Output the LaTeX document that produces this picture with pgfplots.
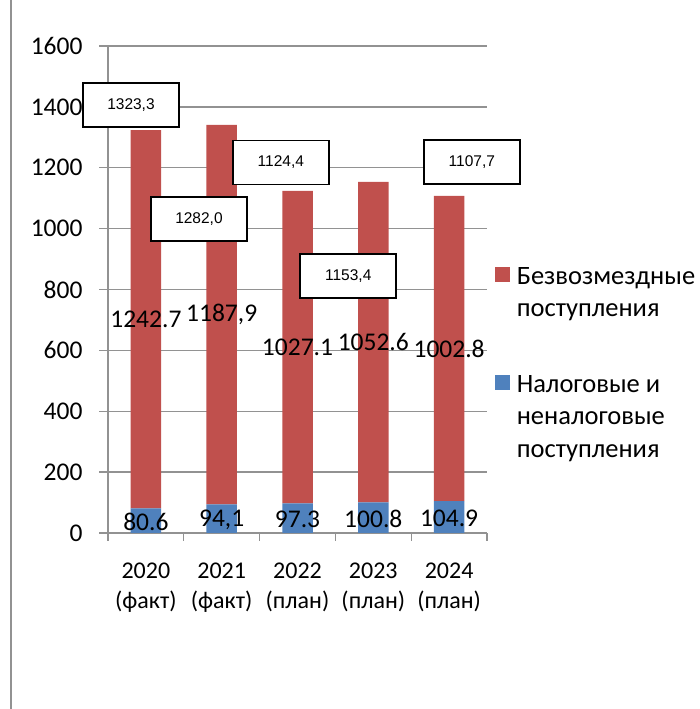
\documentclass[border=0pt]{standalone}
\usepackage{pgfplots}
\pgfplotsset{compat=1.18}
\usepackage{fontspec}
\setmainfont{Carlito}
\newfontfamily\arial{Liberation Sans}
\definecolor{redbar}{RGB}{192,80,77}
\definecolor{bluebar}{RGB}{79,129,189}
\definecolor{gridc}{RGB}{146,146,146}
\begin{document}
\begin{tikzpicture}
\useasboundingbox (0,0) rectangle (699pt,709pt);
\draw[gridc, line width=1.2pt] (11pt,0pt) -- (11pt,709pt);
\begin{axis}[
  at={(108pt,176pt)}, anchor=south west,
  scale only axis, width=379pt, height=487pt,
  xmin=-0.5, xmax=4.5, ymin=0, ymax=1600,
  ybar stacked, bar width=30.5pt,
  axis x line*=bottom, axis y line*=left,
  axis line style={gridc, line width=1.3pt, -},
  ytick={0,200,...,1600},
  ymajorgrids, grid style={gridc, line width=1.3pt},
  xtick={0,...,4},
  xticklabels={{2020\\(факт)},{2021\\(факт)},{2022\\(план)},{2023\\(план)},{2024\\(план)}},
  minor xtick={-0.5,0.5,...,4.5},
  tick align=outside,
  major tick length=9pt, minor tick length=8pt,
  major x tick style={draw=none},
  minor x tick style={gridc, line width=1.3pt},
  ytick style={gridc, line width=1.3pt},
  xticklabel style={align=center, font=\fontsize{24}{30}\selectfont, yshift=-17pt},
  yticklabel style={font=\fontsize{25.5}{30}\selectfont, xshift=-13pt},
  /pgf/number format/assume math mode=true,
  /pgf/number format/1000 sep={},
  legend style={draw=none, fill=none, at={(1.02,0.547)}, anchor=north west,
     font=\fontsize{26.5}{32.5}\selectfont, cells={anchor=north west, align=left},
     row sep=57pt, column sep=7pt, inner sep=0pt, nodes={inner sep=0pt}},
  legend image code/.code={\fill[#1] (0pt,-15pt) rectangle (15pt,0pt);},
  reverse legend,
]
\addplot[fill=bluebar, draw=none] coordinates {(0,80.6) (1,94.1) (2,97.3) (3,100.8) (4,104.9)};
\addlegendentry{Налоговые и\\неналоговые\\поступления}
\addplot[fill=redbar, draw=none] coordinates {(0,1242.7) (1,1246.9) (2,1027.1) (3,1052.6) (4,1002.8)};
\addlegendentry{Безвозмездные\\поступления}
\end{axis}
\begin{axis}[
  at={(108pt,176pt)}, anchor=south west,
  scale only axis, width=379pt, height=487pt,
  xmin=-0.5, xmax=4.5, ymin=0, ymax=1600,
  hide axis, clip=false,
]
\addplot[draw=none, mark=none, nodes near coords, point meta=explicit symbolic,
  every node near coord/.append style={anchor=center, font=\fontsize{25.5}{30}\selectfont, inner sep=0pt}]
  coordinates {(0,36)[80.6] (1,44)[94,1] (2,45)[97.3] (3,47)[100.8] (4,49)[104.9]};
\addplot[draw=none, mark=none, nodes near coords, point meta=explicit symbolic,
  every node near coord/.append style={anchor=center, font=\fontsize{25.5}{30}\selectfont, inner sep=0pt}]
  coordinates {(0,701.95)[1242.7] (1,717.55)[1187,9] (2,610.85)[1027.1] (3,627.1)[1052.6] (4,606.3)[1002.8]};
\addplot[draw=none, mark=none, nodes near coords, point meta=explicit symbolic,
  every node near coord/.append style={anchor=center, font=\arial\fontsize{15.5}{18}\selectfont,
    draw=black, fill=white, line width=1.8pt, minimum width=96pt, minimum height=44pt, inner sep=0pt}]
  coordinates {(-0.197,1406)[1323,3] (0.70,1031.5)[1282,0] (1.78,1217)[1124,4] (2.67,844)[1153,4] (4.30,1219)[1107,7]};
\end{axis}
\end{tikzpicture}
\end{document}
